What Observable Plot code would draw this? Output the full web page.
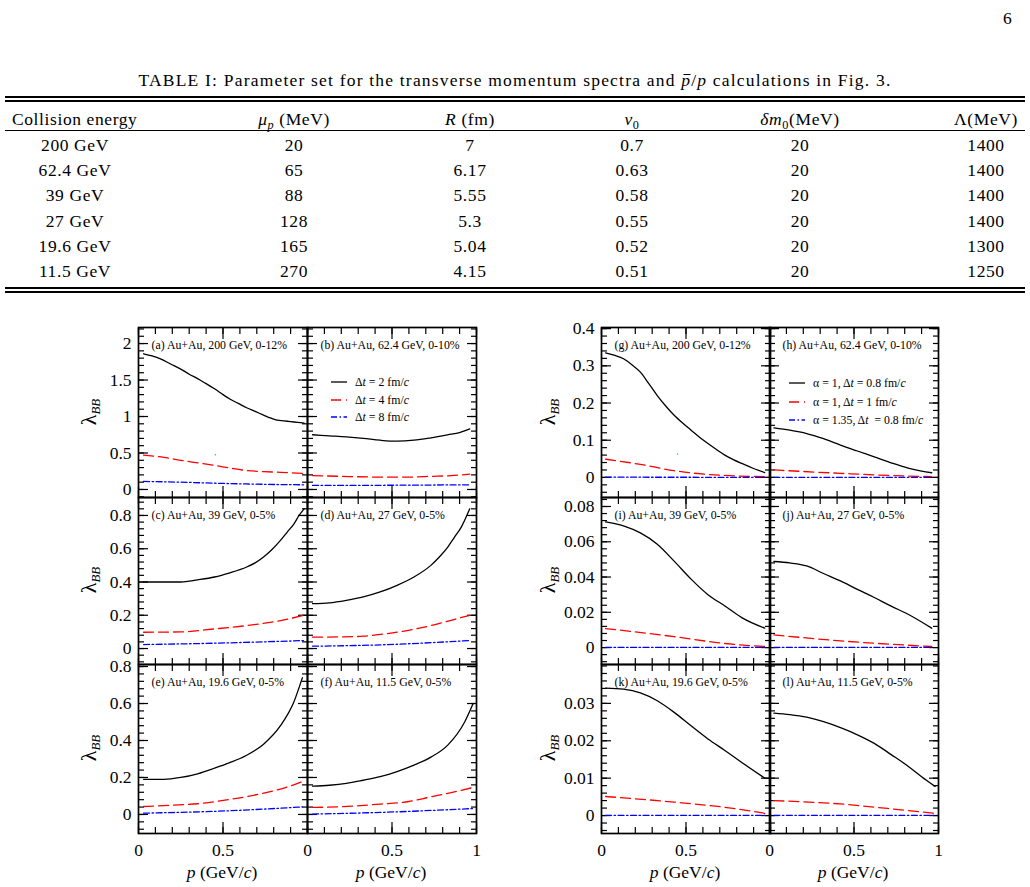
<!DOCTYPE html>
<html><head><meta charset="utf-8">
<script src="https://cdn.jsdelivr.net/npm/d3@7"></script>
<script src="https://cdn.jsdelivr.net/npm/@observablehq/plot@0.6"></script>
<style>
body{margin:0;background:#fff;}
#page{position:relative;width:1030px;height:887px;font-family:"Liberation Serif","Times New Roman",serif;color:#000;overflow:hidden;background:#fff}
.t{position:absolute;white-space:nowrap;line-height:20px;height:20px}
.c{transform:translateX(-50%)}
.rule{position:absolute;left:5px;width:1020px;background:#000}
sub{font-size:70%;vertical-align:-0.3em;line-height:0}
.pbar{position:relative}
.pbar b{position:absolute;left:2px;top:4px;width:7px;height:1.2px;background:#000}
</style></head><body><div id="page"></div>
<script>
// ---------------- TABLE DATA ----------------
const tableCaption = 'TABLE I: Parameter set for the transverse momentum spectra and <i class="pbar">p<b></b></i>/<i>p</i> calculations in Fig. 3.';
const tableHeaders = ['Collision energy', '<i>μ<sub>p</sub></i> (MeV)', '<i>R</i> (fm)', '<i>v</i><sub>0</sub>', '<i>δm</i><sub>0</sub>(MeV)', 'Λ(MeV)'];
const energies = ['200 GeV', '62.4 GeV', '39 GeV', '27 GeV', '19.6 GeV', '11.5 GeV'];
const muP = ['20', '65', '88', '128', '165', '270'];
const radius = ['7', '6.17', '5.55', '5.3', '5.04', '4.15'];
const v0 = ['0.7', '0.63', '0.58', '0.55', '0.52', '0.51'];
const deltaM0 = ['20', '20', '20', '20', '20', '20'];
const lambdaMeV = ['1400', '1400', '1400', '1400', '1300', '1250'];

// ---------------- FIGURE DATA ----------------
// Left block (Δt = 2, 4, 8 fm/c)
const a_dt2 = [[0.03,1.86],[0.08,1.83],[0.13,1.79],[0.19,1.72],[0.25,1.65],[0.30,1.58],[0.35,1.52],[0.40,1.45],[0.45,1.38],[0.50,1.30],[0.54,1.24],[0.59,1.18],[0.64,1.12],[0.69,1.07],[0.74,1.02],[0.78,0.98],[0.82,0.95],[0.86,0.94],[0.90,0.93],[0.94,0.92],[0.98,0.91]];
const a_dt4 = [[0.03,0.47],[0.15,0.44],[0.25,0.40],[0.35,0.365],[0.45,0.33],[0.55,0.29],[0.64,0.26],[0.74,0.245],[0.84,0.235],[0.98,0.22]];
const a_dt8 = [[0.03,0.11],[0.25,0.10],[0.45,0.086],[0.65,0.075],[0.85,0.067],[0.98,0.064]];
const b_dt2 = [[0.03,0.75],[0.13,0.735],[0.23,0.72],[0.33,0.70],[0.43,0.675],[0.53,0.662],[0.63,0.675],[0.73,0.708],[0.83,0.749],[0.90,0.78],[0.96,0.83]];
const b_dt4 = [[0.03,0.19],[0.2,0.18],[0.43,0.17],[0.6,0.17],[0.73,0.18],[0.85,0.19],[0.96,0.21]];
const b_dt8 = [[0.03,0.055],[0.5,0.058],[0.96,0.064]];
const c_dt2 = [[0.03,0.40],[0.15,0.40],[0.25,0.40],[0.35,0.413],[0.45,0.43],[0.54,0.455],[0.64,0.49],[0.69,0.515],[0.74,0.55],[0.79,0.595],[0.84,0.65],[0.88,0.70],[0.92,0.75],[0.95,0.80],[0.98,0.84]];
const c_dt4 = [[0.03,0.098],[0.25,0.10],[0.45,0.118],[0.64,0.138],[0.84,0.168],[0.98,0.20]];
const c_dt8 = [[0.03,0.024],[0.45,0.032],[0.98,0.048]];
const d_dt2 = [[0.03,0.27],[0.13,0.275],[0.23,0.29],[0.33,0.31],[0.43,0.34],[0.53,0.38],[0.63,0.43],[0.73,0.50],[0.78,0.55],[0.83,0.61],[0.87,0.67],[0.91,0.73],[0.96,0.84]];
const d_dt4 = [[0.03,0.068],[0.2,0.07],[0.33,0.074],[0.43,0.085],[0.53,0.098],[0.73,0.138],[0.85,0.17],[0.96,0.20]];
const d_dt8 = [[0.03,0.014],[0.43,0.022],[0.96,0.048]];
const e_dt2 = [[0.03,0.19],[0.15,0.19],[0.25,0.20],[0.35,0.22],[0.45,0.25],[0.54,0.28],[0.64,0.32],[0.74,0.38],[0.84,0.48],[0.92,0.61],[0.97,0.74]];
const e_dt4 = [[0.03,0.043],[0.2,0.05],[0.35,0.058],[0.54,0.081],[0.74,0.115],[0.88,0.148],[0.97,0.178]];
const e_dt8 = [[0.03,0.007],[0.54,0.02],[0.97,0.041]];
const f_dt2 = [[0.03,0.153],[0.13,0.158],[0.23,0.168],[0.33,0.185],[0.43,0.204],[0.53,0.232],[0.63,0.267],[0.73,0.31],[0.83,0.375],[0.93,0.50],[0.98,0.60]];
const f_dt4 = [[0.03,0.038],[0.2,0.042],[0.43,0.056],[0.6,0.07],[0.73,0.095],[0.85,0.118],[0.98,0.146]];
const f_dt8 = [[0.03,0.002],[0.43,0.011],[0.98,0.032]];
// Right block (α, Δt)
const g_s1 = [[0.024,0.335],[0.08,0.328],[0.13,0.319],[0.18,0.303],[0.23,0.283],[0.28,0.252],[0.33,0.22],[0.38,0.192],[0.43,0.167],[0.48,0.146],[0.53,0.127],[0.58,0.108],[0.63,0.091],[0.68,0.075],[0.73,0.06],[0.78,0.048],[0.83,0.0375],[0.90,0.024],[0.966,0.013]];
const g_s2 = [[0.024,0.049],[0.23,0.035],[0.43,0.018],[0.63,0.008],[0.966,0.002]];
const g_s3 = [[0.024,0.0006],[0.5,0.0004],[0.966,0.0002]];
const h_s1 = [[0.026,0.133],[0.12,0.127],[0.22,0.118],[0.32,0.104],[0.42,0.087],[0.52,0.071],[0.62,0.055],[0.72,0.039],[0.82,0.025],[0.90,0.017],[0.96,0.0125]];
const h_s2 = [[0.026,0.02],[0.42,0.011],[0.72,0.005],[0.96,0.002]];
const h_s3 = [[0.026,0.0003],[0.96,0.0001]];
const i_s1 = [[0.024,0.0713],[0.13,0.069],[0.23,0.065],[0.33,0.0586],[0.43,0.049],[0.53,0.0388],[0.63,0.030],[0.73,0.0236],[0.83,0.017],[0.966,0.011]];
const i_s2 = [[0.024,0.0108],[0.43,0.0062],[0.73,0.0023],[0.966,0.0006]];
const i_s3 = [[0.024,0.0001],[0.966,0.0001]];
const j_s1 = [[0.026,0.0488],[0.12,0.048],[0.22,0.0463],[0.32,0.042],[0.42,0.0378],[0.52,0.033],[0.62,0.0284],[0.72,0.0235],[0.82,0.0189],[0.96,0.011]];
const j_s2 = [[0.026,0.0072],[0.42,0.0038],[0.96,0.0006]];
const j_s3 = [[0.026,0.0001],[0.96,0.0001]];
const k_s1 = [[0.024,0.0341],[0.13,0.0338],[0.23,0.0328],[0.33,0.0307],[0.43,0.0276],[0.53,0.024],[0.63,0.0205],[0.73,0.0174],[0.83,0.0142],[0.966,0.01]];
const k_s2 = [[0.024,0.0051],[0.43,0.0036],[0.73,0.0022],[0.966,0.0006]];
const k_s3 = [[0.024,0.00005],[0.966,0.00005]];
const l_s1 = [[0.026,0.0274],[0.12,0.027],[0.22,0.0263],[0.32,0.0251],[0.42,0.0235],[0.52,0.0216],[0.62,0.0193],[0.72,0.0163],[0.82,0.0132],[0.90,0.0104],[0.98,0.0078]];
const l_s2 = [[0.026,0.004],[0.42,0.0031],[0.7,0.0019],[0.98,0.0006]];
const l_s3 = [[0.026,0.00005],[0.98,0.00005]];
// stray green points visible in panels (a) and (g)
const a_stray = [[0.455,0.475]];
const g_stray = [[0.45,0.063]];

const panelLabels = ['(a) Au+Au, 200 GeV, 0-12%','(b) Au+Au, 62.4 GeV, 0-10%','(c) Au+Au, 39 GeV, 0-5%','(d) Au+Au, 27 GeV, 0-5%','(e) Au+Au, 19.6 GeV, 0-5%','(f) Au+Au, 11.5 GeV, 0-5%','(g) Au+Au, 200 GeV, 0-12%','(h) Au+Au, 62.4 GeV, 0-10%','(i) Au+Au, 39 GeV, 0-5%','(j) Au+Au, 27 GeV, 0-5%','(k) Au+Au, 19.6 GeV, 0-5%','(l) Au+Au, 11.5 GeV, 0-5%'];
const legendLeft = ['Δ<i>t</i> = 2 fm/<i>c</i>','Δ<i>t</i> = 4 fm/<i>c</i>','Δ<i>t</i> = 8 fm/<i>c</i>'];
const legendRight = ['α = 1, Δ<i>t</i> = 0.8 fm/<i>c</i>','α = 1, Δ<i>t</i> = 1 fm/<i>c</i>','α = 1.35, Δ<i>t</i> &nbsp;= 0.8 fm/<i>c</i>'];

// tick labels
const xTicksMajor = [0, 0.5, 1];
const xLabelsLeftPanel = [0, 0.5];
const xLabelsRightPanel = [0, 0.5, 1];
const yTicksA = [0, 0.5, 1, 1.5, 2];
const yTicksC = [0, 0.2, 0.4, 0.6, 0.8];
const yTicksE = [0, 0.2, 0.4, 0.6, 0.8];
const yTicksG = [0, 0.1, 0.2, 0.3, 0.4];
const yTicksI = [0, 0.02, 0.04, 0.06, 0.08];
const yTicksK = [0, 0.01, 0.02, 0.03];

// ---------------- STYLES ----------------
const lineStyles = [
  {stroke: "#000000", dash: null},
  {stroke: "#ff0000", dash: "10,5"},
  {stroke: "#0000ff", dash: "6,2.5,1.5,2.5"}
];

const page = document.getElementById('page');
function addText(html, x, y, opts = {}) {
  const d = document.createElement('div');
  d.className = 't' + (opts.center ? ' c' : '');
  d.innerHTML = html;
  d.style.left = x + 'px';
  d.style.top = (y - 10) + 'px';
  d.style.fontSize = (opts.size || 17.5) + 'px';
  if (opts.ls) d.style.letterSpacing = opts.ls + 'px';
  page.appendChild(d);
  return d;
}
function addRule(y, h) {
  const d = document.createElement('div');
  d.className = 'rule'; d.style.top = y + 'px'; d.style.height = h + 'px';
  page.appendChild(d);
}

// ---------------- TABLE ----------------
addText('6', 1003, 18, {size: 17.5});
addText(tableCaption, 515, 80, {center: true, size: 17.5, ls: 1.2});
addRule(96, 2); addRule(100, 2);
const colX = [75, 294, 470, 632, 800, 986];
tableHeaders.forEach((h, i) => {
  if (i === 0) addText(h, 12, 119, {ls: 0.6});
  else addText(h, colX[i], 119, {center: true, ls: 0.6});
});
addRule(130, 1.3);
const rowY = [145, 170, 195, 221, 246, 271];
const cols = [energies, muP, radius, v0, deltaM0, lambdaMeV];
cols.forEach((col, ci) => col.forEach((v, ri) => addText(v, colX[ci], rowY[ri], {center: true, ls: 0.6})));
addRule(287, 2); addRule(291, 2);

// ---------------- PANELS ----------------
const ML = 60, MR = 14, MT = 14, MB = 50;
const fmt = d3.format("~g");
function minorTicks(dom, step) {
  const out = [];
  const s = Math.ceil(dom[0] / step - 1e-9), e = Math.floor(dom[1] / step + 1e-9);
  for (let i = s; i <= e; i++) out.push(+(i * step).toFixed(6));
  return out;
}
function makePanel(cfg) {
  const {x0, y0, w, h, ydom, yMajor, yMinorStep, series, label, yLabels, xLabels, stray} = cfg;
  const xMinor = minorTicks([0, 1], 0.1);
  const yMinor = minorTicks(ydom, yMinorStep);
  const tk = {tickFormat: () => "", label: null, strokeWidth: 1.2};
  const marks = [];
  for (const anchor of ["bottom", "top"]) {
    marks.push(Plot.axisX(xMinor, {anchor, tickSize: -6, ...tk}));
    marks.push(Plot.axisX(xTicksMajor, {anchor, tickSize: -11, ...tk}));
  }
  for (const anchor of ["left", "right"]) {
    marks.push(Plot.axisY(yMinor, {anchor, tickSize: -6, ...tk}));
    marks.push(Plot.axisY(yMajor, {anchor, tickSize: -10, ...tk}));
  }
  if (yLabels) marks.push(Plot.axisY(yMajor, {anchor: "left", tickSize: 0, tickPadding: 7, tickFormat: fmt, label: null, fontSize: 17.5}));
  if (xLabels) marks.push(Plot.axisX(xLabels, {anchor: "bottom", tickSize: 0, tickPadding: 10, tickFormat: fmt, label: null, fontSize: 17.5}));
  series.forEach((s, i) => {
    marks.push(Plot.line(s, {x: d => d[0], y: d => d[1], stroke: lineStyles[i].stroke, strokeDasharray: lineStyles[i].dash, strokeWidth: 1.3, curve: "monotone-x"}));
  });
  if (stray) marks.push(Plot.dot(stray, {x: d => d[0], y: d => d[1], r: 0.8, fill: "#33cc33"}));
  marks.push(Plot.text([label], {text: d => d, frameAnchor: "top-left", dx: 13, dy: 18, textAnchor: "start", lineAnchor: "middle", fontSize: 11.8}));
  marks.push(Plot.frame({stroke: "#000", strokeWidth: 1.7}));
  const svg = Plot.plot({
    width: w + ML + MR, height: h + MT + MB,
    marginLeft: ML, marginRight: MR, marginTop: MT, marginBottom: MB,
    x: {domain: [0, 1]}, y: {domain: ydom},
    style: {background: "transparent", overflow: "visible", fontFamily: "'Liberation Serif', serif", fontSize: "17.5px", color: "#000"},
    marks
  });
  svg.style.position = "absolute";
  svg.style.left = (x0 - ML) + "px";
  svg.style.top = (y0 - MT) + "px";
  page.appendChild(svg);
}

const leftX = [138, 307], rightX = [601, 769];
const rowsTop = [327, 497, 664], rowsH = [170, 167, 169];
const leftDomains = [[-0.11, 2.22], [-0.096, 0.908], [-0.103, 0.811]];
const rightDomains = [[-0.054, 0.403], [-0.0096, 0.0851], [-0.0048, 0.0404]];
const leftMajor = [yTicksA, yTicksC, yTicksE], leftMinor = [0.1, 0.04, 0.04];
const rightMajor = [yTicksG, yTicksI, yTicksK], rightMinor = [0.02, 0.004, 0.002];
const leftSeries = [[a_dt2, a_dt4, a_dt8], [b_dt2, b_dt4, b_dt8], [c_dt2, c_dt4, c_dt8], [d_dt2, d_dt4, d_dt8], [e_dt2, e_dt4, e_dt8], [f_dt2, f_dt4, f_dt8]];
const rightSeries = [[g_s1, g_s2, g_s3], [h_s1, h_s2, h_s3], [i_s1, i_s2, i_s3], [j_s1, j_s2, j_s3], [k_s1, k_s2, k_s3], [l_s1, l_s2, l_s3]];

for (let r = 0; r < 3; r++) {
  for (let c = 0; c < 2; c++) {
    const idx = r * 2 + c;
    makePanel({x0: leftX[c], y0: rowsTop[r], w: 169, h: rowsH[r], ydom: leftDomains[r], yMajor: leftMajor[r], yMinorStep: leftMinor[r],
      series: leftSeries[idx], label: panelLabels[idx], yLabels: c === 0, xLabels: r === 2 ? (c === 0 ? xLabelsLeftPanel : xLabelsRightPanel) : null,
      stray: idx === 0 ? a_stray : null});
    makePanel({x0: rightX[c], y0: rowsTop[r], w: 169, h: rowsH[r], ydom: rightDomains[r], yMajor: rightMajor[r], yMinorStep: rightMinor[r],
      series: rightSeries[idx], label: panelLabels[6 + idx], yLabels: c === 0, xLabels: r === 2 ? (c === 0 ? xLabelsLeftPanel : xLabelsRightPanel) : null,
      stray: idx === 0 ? g_stray : null});
  }
}

// axis titles
const xTitle = '<i>p</i> (GeV/<i>c</i>)';
[222, 391, 685, 853].forEach(x => addText(xTitle, x, 872, {center: true, size: 17.5}));
const yTitle = '<span style="font-size:22px">λ</span><i style="font-size:13px;position:relative;top:4px">BB</i>';
const rowCenters = [412, 580, 748];
[90, 549].forEach(x => rowCenters.forEach(y => {
  const d = document.createElement('div');
  d.className = 't';
  d.innerHTML = yTitle;
  d.style.left = x + 'px'; d.style.top = y + 'px'; d.style.height = 'auto'; d.style.lineHeight = '24px';
  d.style.transform = 'translate(-50%,-50%) rotate(-90deg)';
  page.appendChild(d);
}));

// legends
function legend(lineX1, lineX2, textX, ys, labels) {
  ys.forEach((y, i) => {
    const s = document.createElementNS('http://www.w3.org/2000/svg', 'svg');
    s.setAttribute('width', lineX2 - lineX1 + 2); s.setAttribute('height', 6);
    s.style.position = 'absolute'; s.style.left = lineX1 + 'px'; s.style.top = (y - 3) + 'px';
    const ln = document.createElementNS('http://www.w3.org/2000/svg', 'line');
    ln.setAttribute('x1', 0); ln.setAttribute('x2', lineX2 - lineX1); ln.setAttribute('y1', 3); ln.setAttribute('y2', 3);
    ln.setAttribute('stroke', lineStyles[i].stroke); ln.setAttribute('stroke-width', 1.3);
    if (lineStyles[i].dash) ln.setAttribute('stroke-dasharray', lineStyles[i].dash);
    s.appendChild(ln); page.appendChild(s);
    addText(labels[i], textX, y, {size: 11.8});
  });
}
legend(331, 347, 355, [382.3, 400, 416.7], legendLeft);
legend(789, 805, 813, [383, 401.5, 420], legendRight);
</script></body></html>
